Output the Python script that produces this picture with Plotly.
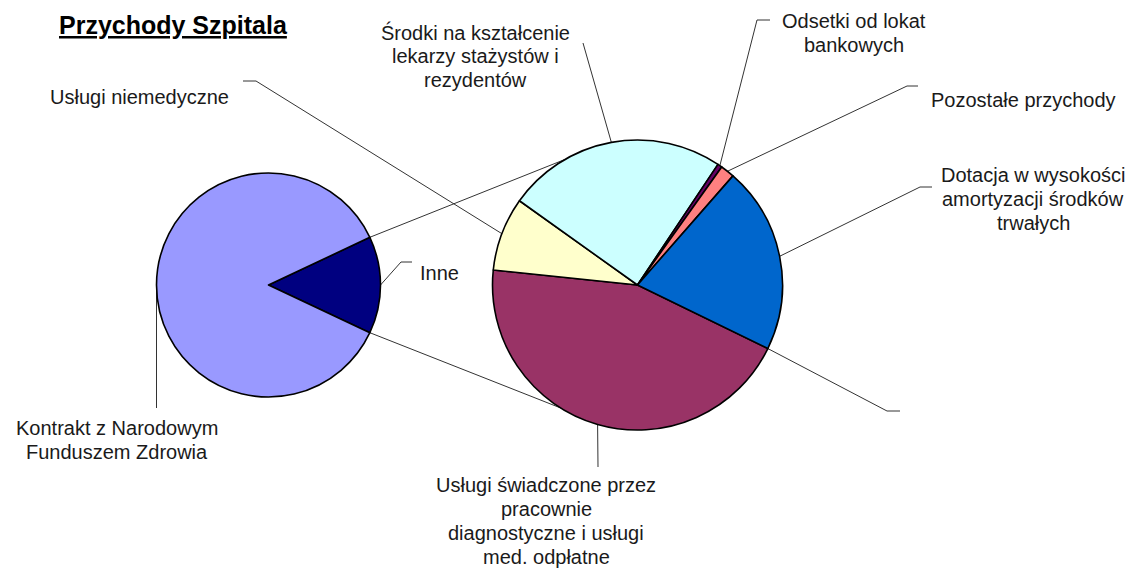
import math
import plotly.graph_objects as go

W, H = 1136, 568

# Hospital revenue structure, % of total revenue
contract_label = "Kontrakt z Narodowym<br>Funduszem Zdrowia"
contract_value = 86.0
other_group_label = "Inne"

# breakdown of "Inne" (second pie), listed clockwise
other_labels = [
    "",
    "Usługi świadczone przez<br>pracownie<br>diagnostyczne i usługi<br>med. odpłatne",
    "Usługi niemedyczne",
    "Środki na kształcenie<br>lekarzy stażystów i<br>rezydentów",
    "Odsetki od lokat<br>bankowych",
    "Pozostałe przychody",
    "Dotacja w wysokości<br>amortyzacji środków<br>trwałych",
]
other_values = [0.0, 6.22, 1.15, 3.43, 0.07, 0.22, 2.91]
other_colors = ["#FFFFFF", "#993366", "#FFFFCC", "#CCFFFF", "#660066", "#FF8080", "#0066CC"]
main_colors = ["#000080", "#9999FF"]

other_total = sum(other_values)
main_labels = [other_group_label, contract_label]
main_values = [other_total, contract_value]

# geometry of the two pies (pixels)
LC, LR = (268.5, 285.0), 112.0
RC, RR = (637.5, 285.0), 145.0
right_rotation = 116.0
FONT = "Liberation Sans, Arial, sans-serif"
FONT_SIZE = 20
LINE_STEP = 24
TXT = "#1a1a1a"
LINE = "#333333"


def domain(c, r):
    return dict(x=[(c[0] - r) / W, (c[0] + r) / W],
                y=[1 - (c[1] + r) / H, 1 - (c[1] - r) / H])


def edge(c, r, phi):
    p = math.radians(phi)
    return c[0] + r * math.sin(p), c[1] - r * math.cos(p)


def slice_angles(values, rotation):
    tot = sum(values)
    starts, mids = [], []
    acc = rotation
    for v in values:
        a = v / tot * 360.0
        starts.append(acc)
        mids.append(acc + a / 2)
        acc += a
    return starts, mids


main_inne_deg = main_values[0] / sum(main_values) * 360.0
left_rotation = 90.0 - main_inne_deg / 2
main_starts, main_mids = slice_angles(main_values, left_rotation)
other_starts, other_mids = slice_angles(other_values, right_rotation)

fig = go.Figure()

# connectors between the "Inne" wedge and the second pie
conn = [
    (edge(LC, LR, main_starts[0]), edge(RC, RR, -30.0)),
    (edge(LC, LR, main_starts[0] + main_inne_deg), edge(RC, RR, 212.0)),
]
for a, b in conn:
    fig.add_trace(go.Scatter(x=[a[0], b[0]], y=[a[1], b[1]], mode="lines",
                             line=dict(color=LINE, width=1), hoverinfo="skip",
                             showlegend=False))

keep = [i for i, v in enumerate(other_values) if v > 0]
fig.add_trace(go.Pie(
    values=main_values, labels=["Inne", "Kontrakt"], sort=False,
    direction="clockwise", rotation=left_rotation,
    marker=dict(colors=main_colors, line=dict(color="black", width=1.6)),
    textinfo="none", hoverinfo="label+value", domain=domain(LC, LR),
    showlegend=False))
fig.add_trace(go.Pie(
    values=[other_values[i] for i in keep],
    labels=[other_labels[i].replace("<br>", " ") for i in keep], sort=False,
    direction="clockwise", rotation=right_rotation,
    marker=dict(colors=[other_colors[i] for i in keep],
                line=dict(color="black", width=1.6)),
    textinfo="none", hoverinfo="label+value", domain=domain(RC, RR),
    showlegend=False))

# label placement: text centre, leader elbow, tick end
main_place = [
    dict(text=(439, 273), elbow=(401, 262), tick=(412, 262)),
    dict(text=(117, 440), elbow=(156.5, 408), tick=None),
]
other_place = [
    dict(text=None, elbow=(887, 411), tick=(900, 411)),
    dict(text=(546, 521), elbow=(598, 467), tick=None),
    dict(text=(139, 97), elbow=(256, 81), tick=(243, 81)),
    dict(text=(475, 56), elbow=(583, 43), tick=None),
    dict(text=(854, 33), elbow=(757, 20), tick=(770, 20)),
    dict(text=(1023, 100), elbow=(907, 86), tick=(918, 86)),
    dict(text=(1033, 199), elbow=(920, 187), tick=(932, 187)),
]

annotations = []


def add_label(label, c, r, phi, place):
    p0 = edge(c, r, phi)
    xs, ys = [p0[0], place["elbow"][0]], [p0[1], place["elbow"][1]]
    if place["tick"] is not None:
        xs.append(place["tick"][0])
        ys.append(place["tick"][1])
    fig.add_trace(go.Scatter(x=xs, y=ys, mode="lines",
                             line=dict(color=LINE, width=1), hoverinfo="skip",
                             showlegend=False))
    if place["text"] is None or not label:
        return
    # one annotation per text line keeps the tight line spacing
    lines = label.split("<br>")
    n = len(lines)
    for k, ln in enumerate(lines):
        annotations.append(dict(
            x=place["text"][0], y=place["text"][1] + (k - (n - 1) / 2) * LINE_STEP,
            xref="x", yref="y", text=ln, showarrow=False,
            xanchor="center", yanchor="middle",
            font=dict(family=FONT, size=FONT_SIZE, color=TXT)))


for lab, phi, pl in zip(main_labels, main_mids, main_place):
    add_label(lab, LC, LR, phi, pl)
for lab, phi, pl in zip(other_labels, other_mids, other_place):
    add_label(lab, RC, RR, phi, pl)

annotations.append(dict(x=173, y=25, xref="x", yref="y",
                        text="<b><u>Przychody Szpitala</u></b>", showarrow=False,
                        xanchor="center", yanchor="middle",
                        font=dict(family=FONT, size=25, color="black")))

fig.update_layout(
    width=W, height=H, margin=dict(l=0, r=0, t=0, b=0),
    paper_bgcolor="white", plot_bgcolor="white",
    xaxis=dict(range=[0, W], visible=False, fixedrange=True, domain=[0, 1]),
    yaxis=dict(range=[H, 0], visible=False, fixedrange=True, domain=[0, 1]),
    annotations=annotations, showlegend=False,
)

fig.write_html("out.html")
